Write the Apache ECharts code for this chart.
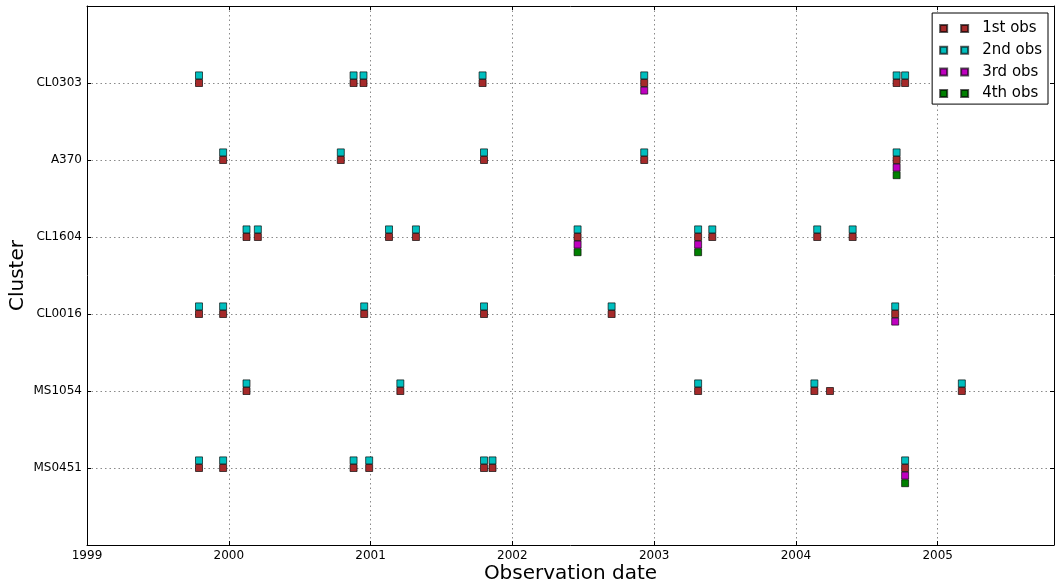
<!DOCTYPE html>
<html>
<head>
<meta charset="utf-8">
<script src="https://cdn.jsdelivr.net/npm/echarts@6/dist/echarts.min.js"></script>
<style>
  html, body { margin: 0; padding: 0; background: #fff; }
  #chart { width: 1055px; height: 585px; }
</style>
</head>
<body>
<div id="chart"></div>
<script>
// Clusters listed bottom to top along the vertical axis
const clusters = ['MS0451', 'MS1054', 'CL0016', 'CL1604', 'A370', 'CL0303'];
const yearTicks = [1999, 2000, 2001, 2002, 2003, 2004, 2005];

// Observation dates (decimal year) per cluster, grouped by observation number
const obs1 = [
  [1999.79, 'CL0303'], [2000.88, 'CL0303'], [2000.95, 'CL0303'], [2001.79, 'CL0303'],
  [2002.93, 'CL0303'], [2004.71, 'CL0303'], [2004.77, 'CL0303'],
  [1999.96, 'A370'], [2000.79, 'A370'], [2001.80, 'A370'], [2002.93, 'A370'], [2004.71, 'A370'],
  [2000.125, 'CL1604'], [2000.205, 'CL1604'], [2001.13, 'CL1604'], [2001.32, 'CL1604'],
  [2002.46, 'CL1604'], [2003.31, 'CL1604'], [2003.41, 'CL1604'], [2004.15, 'CL1604'], [2004.40, 'CL1604'],
  [1999.79, 'CL0016'], [1999.96, 'CL0016'], [2000.955, 'CL0016'], [2001.80, 'CL0016'],
  [2002.70, 'CL0016'], [2004.70, 'CL0016'],
  [2000.125, 'MS1054'], [2001.21, 'MS1054'], [2003.31, 'MS1054'], [2004.13, 'MS1054'],
  [2004.24, 'MS1054'], [2005.17, 'MS1054'],
  [1999.79, 'MS0451'], [1999.96, 'MS0451'], [2000.88, 'MS0451'], [2000.99, 'MS0451'],
  [2001.80, 'MS0451'], [2001.86, 'MS0451'], [2004.77, 'MS0451']
];
const obs2 = [
  [1999.79, 'CL0303'], [2000.88, 'CL0303'], [2000.95, 'CL0303'], [2001.79, 'CL0303'],
  [2002.93, 'CL0303'], [2004.71, 'CL0303'], [2004.77, 'CL0303'],
  [1999.96, 'A370'], [2000.79, 'A370'], [2001.80, 'A370'], [2002.93, 'A370'], [2004.71, 'A370'],
  [2000.125, 'CL1604'], [2000.205, 'CL1604'], [2001.13, 'CL1604'], [2001.32, 'CL1604'],
  [2002.46, 'CL1604'], [2003.31, 'CL1604'], [2003.41, 'CL1604'], [2004.15, 'CL1604'], [2004.40, 'CL1604'],
  [1999.79, 'CL0016'], [1999.96, 'CL0016'], [2000.955, 'CL0016'], [2001.80, 'CL0016'],
  [2002.70, 'CL0016'], [2004.70, 'CL0016'],
  [2000.125, 'MS1054'], [2001.21, 'MS1054'], [2003.31, 'MS1054'], [2004.13, 'MS1054'], [2005.17, 'MS1054'],
  [1999.79, 'MS0451'], [1999.96, 'MS0451'], [2000.88, 'MS0451'], [2000.99, 'MS0451'],
  [2001.80, 'MS0451'], [2001.86, 'MS0451'], [2004.77, 'MS0451']
];
const obs3 = [
  [2002.93, 'CL0303'], [2004.71, 'A370'], [2002.46, 'CL1604'], [2003.31, 'CL1604'],
  [2004.70, 'CL0016'], [2004.77, 'MS0451']
];
const obs4 = [
  [2004.71, 'A370'], [2002.46, 'CL1604'], [2003.31, 'CL1604'], [2004.77, 'MS0451']
];

const seriesNames = ['1st obs', '2nd obs', '3rd obs', '4th obs'];
const seriesColors = ['#a52a2a', '#00bfbf', '#bf00bf', '#008000'];
const seriesData = [obs1, obs2, obs3, obs4];

const FONT = 'DejaVu Sans';
const STACK_STEP = 7.6; // vertical pixel step between successive observations

const toPoints = rows => rows.map(([date, name]) => [date, clusters.indexOf(name) + 1]);

const gridLine = { show: true, lineStyle: { color: '#8a8a8a', type: [1.5, 3], width: 1 } };
const axisLine = { show: true, onZero: false, lineStyle: { color: '#000', width: 1 } };
const innerTick = { show: true, inside: true, length: 4, lineStyle: { color: '#000' } };

const xBase = { type: 'value', min: 1999, max: 2005.82, interval: 1 };
const yBase = { type: 'value', min: 0, max: 7, interval: 1 };

const chart = echarts.init(document.getElementById('chart'), null, { renderer: 'canvas' });
chart.setOption({
  animation: false,
  backgroundColor: '#fff',
  grid: { left: 87, right: 1, top: 6, bottom: 40, containLabel: false, outerBoundsMode: 'none' },
  legend: {
    orient: 'vertical',
    right: 7,
    top: 13,
    padding: [8, 6, 3, 7],
    itemGap: 6.7,
    itemWidth: 28,
    itemHeight: 7,
    icon: 'path://M0,0h7v7h-7zM21,0h7v7h-7z',
    borderColor: '#000',
    borderWidth: 1,
    backgroundColor: '#fff',
    textStyle: { fontFamily: FONT, fontSize: 15, color: '#000', lineHeight: 15, padding: [0, 0, 0, 9] },
    data: seriesNames
  },
  xAxis: [
    Object.assign({}, xBase, {
      position: 'bottom',
      name: 'Observation date',
      nameLocation: 'middle',
      nameGap: 19,
      nameMoveOverlap: false,
      nameTextStyle: { fontFamily: FONT, fontSize: 20, color: '#000' },
      axisLine: axisLine,
      axisTick: innerTick,
      splitLine: gridLine,
      axisLabel: {
        fontFamily: FONT, fontSize: 12, color: '#000', margin: 5,
        showMaxLabel: false,
        formatter: v => (yearTicks.indexOf(v) >= 0 ? String(v) : '')
      }
    }),
    Object.assign({}, xBase, {
      position: 'top',
      axisLine: axisLine,
      axisTick: innerTick,
      axisLabel: { show: false },
      splitLine: { show: false }
    })
  ],
  yAxis: [
    Object.assign({}, yBase, {
      position: 'left',
      name: 'Cluster',
      nameLocation: 'middle',
      nameGap: 59,
      nameMoveOverlap: false,
      nameTextStyle: { fontFamily: FONT, fontSize: 20, color: '#000' },
      axisLine: axisLine,
      axisTick: innerTick,
      splitLine: gridLine,
      axisLabel: {
        fontFamily: FONT, fontSize: 12, color: '#000', margin: 5,
        formatter: v => clusters[v - 1] || ''
      }
    }),
    Object.assign({}, yBase, {
      position: 'right',
      axisLine: axisLine,
      axisTick: innerTick,
      axisLabel: { show: false },
      splitLine: { show: false }
    })
  ],
  series: seriesNames.map((name, i) => ({
    name: name,
    type: 'scatter',
    xAxisIndex: 0,
    yAxisIndex: 0,
    symbol: 'rect',
    symbolSize: 7,
    symbolOffset: [0, i === 0 ? 0 : (i === 1 ? -STACK_STEP : STACK_STEP * (i - 1))],
    itemStyle: {
      color: seriesColors[i],
      borderColor: 'rgba(0,0,0,0.65)',
      borderWidth: 1,
      opacity: 1
    },
    emphasis: { disabled: true },
    z: 3 + i,
    data: toPoints(seriesData[i])
  }))
});
</script>
</body>
</html>
